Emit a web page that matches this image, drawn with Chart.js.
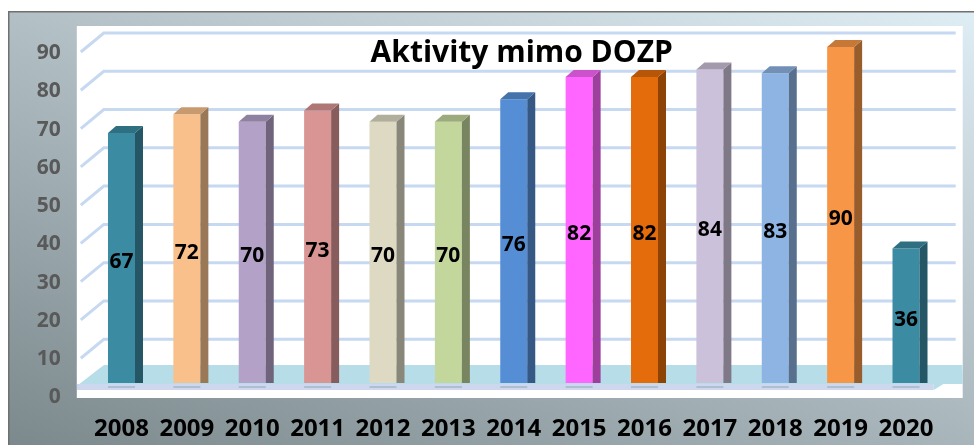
<!DOCTYPE html>
<html>
<head>
<meta charset="utf-8">
<script src="https://cdn.jsdelivr.net/npm/chart.js@4.4.1/dist/chart.umd.min.js"></script>
<style>
  html, body { margin: 0; padding: 0; background: #fff; }
  canvas { display: block; }
</style>
</head>
<body>
<canvas id="myChart" width="974" height="445"></canvas>
<script>
const chartTitle = 'Aktivity mimo DOZP';
const years = ['2008', '2009', '2010', '2011', '2012', '2013', '2014', '2015', '2016', '2017', '2018', '2019', '2020'];
const activities = [67, 72, 70, 73, 70, 70, 76, 82, 82, 84, 83, 90, 36];
const yTicks = [0, 10, 20, 30, 40, 50, 60, 70, 80, 90];

const barColors = ['#3b8ba3', '#f9c08c', '#b3a1c8', '#d99594', '#ddd9c3', '#c3d69b', '#558ed5',
                   '#ff66ff', '#e46c0a', '#ccc1da', '#8eb4e3', '#f79646', '#3b8ba3'];

const FONT = "'Open Sans'";

const shade = (hex, f) => {
  const n = parseInt(hex.slice(1), 16);
  const r = Math.round(((n >> 16) & 255) * f);
  const g = Math.round(((n >> 8) & 255) * f);
  const b = Math.round((n & 255) * f);
  return `rgb(${r},${g},${b})`;
};

// fake 3D: frame, back wall grid, floor, bar sides and labels
const scene = {
  id: 'scene',
  beforeDraw(chart) {
    const { ctx, chartArea: a, width, height } = chart;
    ctx.save();
    ctx.fillStyle = '#fff';
    ctx.fillRect(0, 0, width, height);
    const g = ctx.createLinearGradient(974, 11, 723, 701);
    g.addColorStop(0, '#dfedf4');
    g.addColorStop(1, '#7c898d');
    ctx.fillStyle = g;
    ctx.fillRect(8, 11, width - 8, height - 11);
    ctx.strokeStyle = '#707070';
    ctx.lineWidth = 1.5;
    ctx.strokeRect(8.75, 11.75, width, height);
    ctx.fillStyle = '#fff';
    ctx.fillRect(a.left - 12, a.top - 7, a.width + 36, a.height + 27.5);
    ctx.restore();
  },
  beforeDatasetsDraw(chart) {
    const { ctx, chartArea: a, scales: { y, yb } } = chart;
    const plotL = a.left - 12, plotR = a.right + 24;
    const backL = a.left + 15, backR = a.right + 17;
    ctx.save();
    ctx.beginPath();
    ctx.rect(plotL, a.top - 7, a.width + 36, a.height + 27.5);
    ctx.clip();
    ctx.strokeStyle = '#c6d9f1';
    ctx.lineWidth = 3;
    y.ticks.forEach(t => {
      if (t.value === 0) return;
      const py = y.getPixelForValue(t.value);
      ctx.beginPath();
      ctx.moveTo(a.left - 8, py + 19);
      ctx.lineTo(backL, py);
      ctx.lineTo(backR, py);
      ctx.stroke();
    });
    // floor
    const fb = y.getPixelForValue(0) - 12.5;
    const ff = yb.getPixelForValue(0) + 1;
    ctx.fillStyle = '#b7dde8';
    ctx.beginPath();
    ctx.moveTo(backL, fb);
    ctx.lineTo(plotR, fb);
    ctx.lineTo(plotR, ff);
    ctx.lineTo(plotL, ff);
    ctx.closePath();
    ctx.fill();
    ctx.beginPath();
    ctx.moveTo(backL, fb);
    ctx.lineTo(plotL, ff + 2);
    ctx.lineTo(plotL, fb);
    ctx.closePath();
    ctx.fillStyle = '#fff';
    ctx.fill();
    ctx.fillStyle = '#cdd8ef';
    ctx.fillRect(plotL, ff, a.right - 5 - plotL, 6);
    ctx.fillStyle = '#b7dde8';
    ctx.beginPath();
    ctx.moveTo(a.right - 5, ff + 6);
    ctx.lineTo(plotR, ff - 12);
    ctx.lineTo(plotR, ff);
    ctx.lineTo(a.right - 5, ff);
    ctx.closePath();
    ctx.fill();
    // little shadows under bars
    ctx.fillStyle = 'rgba(140,160,175,0.45)';
    chart.getDatasetMeta(0).data.forEach(bar => {
      ctx.fillRect(bar.x - bar.width / 2, ff + 2, bar.width, 2);
    });
    ctx.restore();
  },
  afterDatasetsDraw(chart) {
    const { ctx } = chart;
    const dx = 8, dy = 7;
    ctx.save();
    chart.getDatasetMeta(0).data.forEach((bar, i) => {
      const l = bar.x - bar.width / 2, r = bar.x + bar.width / 2;
      const top = bar.y, base = bar.base;
      ctx.fillStyle = shade(barColors[i], 0.62);
      ctx.beginPath();
      ctx.moveTo(r, top);
      ctx.lineTo(r + dx, top - dy);
      ctx.lineTo(r + dx, base);
      ctx.lineTo(r, base);
      ctx.closePath();
      ctx.fill();
      ctx.fillStyle = shade(barColors[i], 0.8);
      ctx.beginPath();
      ctx.moveTo(l, top);
      ctx.lineTo(l + dx, top - dy);
      ctx.lineTo(r + dx, top - dy);
      ctx.lineTo(r, top);
      ctx.closePath();
      ctx.fill();
      ctx.fillStyle = '#000';
      ctx.font = `bold 21px ${FONT}`;
      ctx.textAlign = 'center';
      ctx.textBaseline = 'middle';
      ctx.fillText(String(activities[i]), bar.x, (top + base) / 2 + 4);
    });
    ctx.restore();
  },
  afterDraw(chart) {
    const { ctx, chartArea: a } = chart;
    ctx.save();
    ctx.fillStyle = '#000';
    ctx.font = `bold 30px ${FONT}`;
    ctx.textAlign = 'center';
    ctx.textBaseline = 'middle';
    ctx.fillText(chartTitle, (a.left + a.right) / 2 + 8, a.top + 20);
    ctx.restore();
  }
};

const ctx = document.getElementById('myChart').getContext('2d');

const myChart = new Chart(ctx, {
  type: 'bar',
  data: {
    labels: years,
    datasets: [{
      data: activities,
      backgroundColor: barColors,
      borderWidth: 0,
      yAxisID: 'yb',
      clip: false,
      categoryPercentage: 1,
      barPercentage: 0.413
    }]
  },
  options: {
    responsive: false,
    animation: false,
    layout: { padding: { top: 33, right: 35.3, left: 0, bottom: 0 } },
    plugins: {
      legend: { display: false },
      title: { display: false },
      tooltip: { enabled: false }
    },
    scales: {
      x: {
        grid: { display: false, drawTicks: false },
        border: { display: false },
        ticks: {
          color: '#000',
          font: { family: FONT, weight: 'bold', size: 24 },
          padding: 37,
          maxRotation: 0,
          autoSkip: false
        },
        afterFit: s => { s.height = 67.5; s.paddingLeft = 0; s.paddingRight = 0; }
      },
      y: {
        min: 0,
        max: 90,
        grid: { display: false, drawTicks: false },
        border: { display: false },
        ticks: {
          color: '#595959',
          font: { family: FONT, weight: 'bold', size: 21 },
          padding: 28,
          labelOffset: 20
        },
        afterBuildTicks: s => { s.ticks = yTicks.map(v => ({ value: v })); },
        afterFit: s => { s.width = 88.8; s.paddingTop = 0; s.paddingBottom = 0; }
      },
      yb: {
        type: 'linear',
        display: false,
        min: 1.47,
        max: 93.76
      }
    }
  },
  plugins: [scene]
});
</script>
</body>
</html>
